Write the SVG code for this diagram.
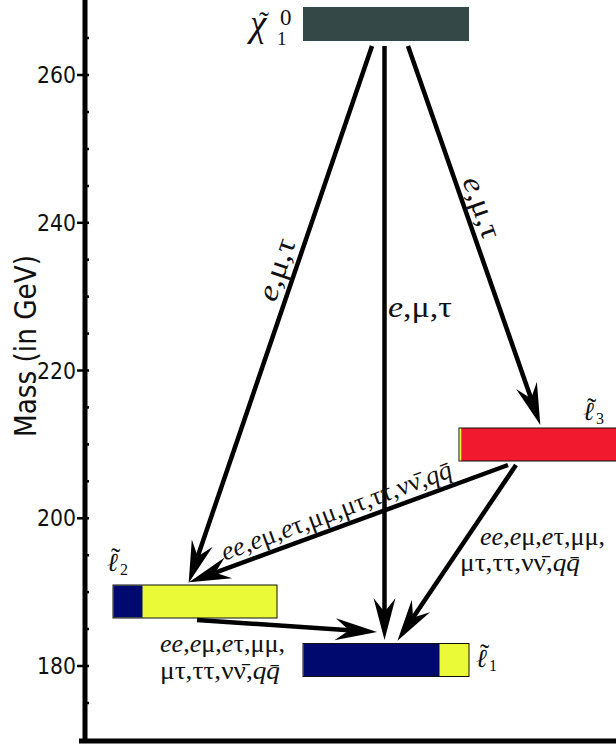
<svg xmlns="http://www.w3.org/2000/svg" width="616" height="746" viewBox="0 0 616 746">
<style>
.ax{stroke:#000;stroke-width:5;fill:none}
.tk{stroke:#000;stroke-width:2.5}
.tl{font-family:"DejaVu Sans",Verdana,sans-serif;font-size:23px;fill:#111;text-anchor:end}
.ml{font-family:"DejaVu Sans",Verdana,sans-serif;font-size:31px;fill:#111;text-anchor:middle}
.sf{font-family:"Liberation Serif","Times New Roman",serif;fill:#111}
.i{font-style:italic}
.lb{font-size:26px}
.lb2{font-size:30px}
.conn{stroke:#000;stroke-width:4.5;fill:none;marker-end:url(#ah)}
.bar{stroke:#111;stroke-width:1}
</style>
<defs>
<marker id="ah" markerUnits="userSpaceOnUse" viewBox="-15 -12 45 24" markerWidth="45" markerHeight="24" refX="0" refY="0" orient="auto">
<path d="M28,0 L-14,-11 L0,0 L-14,11 Z" fill="#000"/>
</marker>
</defs>
<rect width="616" height="746" fill="#fff"/>
<g id="axis">
<line class="ax" x1="85" y1="0" x2="85" y2="743"/>
<line class="ax" x1="79" y1="741" x2="616" y2="741"/>
<g class="tk">
<line x1="77" y1="75" x2="89" y2="75"/>
<line x1="77" y1="222.8" x2="89" y2="222.8"/>
<line x1="77" y1="370.5" x2="89" y2="370.5"/>
<line x1="77" y1="518.3" x2="89" y2="518.3"/>
<line x1="77" y1="666" x2="89" y2="666"/>
<line x1="85" y1="38" x2="89" y2="38"/>
<line x1="85" y1="112" x2="89" y2="112"/>
<line x1="85" y1="149" x2="89" y2="149"/>
<line x1="85" y1="186" x2="89" y2="186"/>
<line x1="85" y1="259.7" x2="89" y2="259.7"/>
<line x1="85" y1="296.6" x2="89" y2="296.6"/>
<line x1="85" y1="333.6" x2="89" y2="333.6"/>
<line x1="85" y1="407.4" x2="89" y2="407.4"/>
<line x1="85" y1="444.4" x2="89" y2="444.4"/>
<line x1="85" y1="481.3" x2="89" y2="481.3"/>
<line x1="85" y1="555.2" x2="89" y2="555.2"/>
<line x1="85" y1="592.1" x2="89" y2="592.1"/>
<line x1="85" y1="629" x2="89" y2="629"/>
<line x1="85" y1="703" x2="89" y2="703"/>
</g>
<text class="tl" x="76" y="83" textLength="39" lengthAdjust="spacingAndGlyphs">260</text>
<text class="tl" x="76" y="230.8" textLength="39" lengthAdjust="spacingAndGlyphs">240</text>
<text class="tl" x="76" y="378.5" textLength="39" lengthAdjust="spacingAndGlyphs">220</text>
<text class="tl" x="76" y="526.3" textLength="39" lengthAdjust="spacingAndGlyphs">200</text>
<text class="tl" x="76" y="674" textLength="39" lengthAdjust="spacingAndGlyphs">180</text>
<text class="ml" transform="translate(36,346) rotate(-90)" textLength="182" lengthAdjust="spacingAndGlyphs">Mass (in GeV)</text>
</g>
<g id="chi">
<rect x="303" y="7" width="166" height="34" fill="#344848"/>
<text class="sf"><tspan class="i" x="250" y="36" font-size="37">χ</tspan><tspan x="259" y="32" font-size="30">˜</tspan><tspan x="277" y="45" font-size="19">1</tspan><tspan x="280" y="25" font-size="23">0</tspan></text>
</g>
<g id="slepton3">
<rect class="bar" x="459" y="428" width="160" height="33" fill="#f0192d"/>
<rect x="459.5" y="428.5" width="1.8" height="32" fill="#ebfa37"/>
<text class="sf"><tspan class="i" x="583" y="420" font-size="26">ℓ</tspan><tspan x="587" y="417" font-size="28">˜</tspan><tspan x="596" y="424" font-size="16">3</tspan></text>
</g>
<g id="slepton2">
<rect class="bar" x="113" y="585" width="164" height="33" fill="#ebfa37"/>
<rect x="113.5" y="585.5" width="29" height="32" fill="#000a6e"/>
<text class="sf"><tspan class="i" x="107" y="571" font-size="26">ℓ</tspan><tspan x="111" y="567" font-size="28">˜</tspan><tspan x="120" y="575" font-size="16">2</tspan></text>
</g>
<g id="slepton1">
<rect class="bar" x="303" y="643.5" width="166" height="33" fill="#ebfa37"/>
<rect x="303.5" y="644" width="136" height="32" fill="#000a6e"/>
<text class="sf"><tspan class="i" x="476" y="667" font-size="26">ℓ</tspan><tspan x="480" y="663" font-size="28">˜</tspan><tspan x="489" y="671" font-size="16">1</tspan></text>
</g>
<g id="connectors">
<path class="conn" d="M372,46 L197.7,556.4"/>
<path class="conn" d="M384.5,46 L384.5,612"/>
<path class="conn" d="M408,46 L531.1,398.5"/>
<path class="conn" d="M508,465 L215.3,572.7"/>
<path class="conn" d="M516,465 L413.1,617.6"/>
<path class="conn" d="M197,620 L349.1,630.2"/>
</g>
<g id="labels" class="sf">
<text class="lb2" transform="translate(285.6,272.7) rotate(-71.05)" text-anchor="middle" textLength="64" lengthAdjust="spacingAndGlyphs"><tspan class="i">e</tspan>,μ,τ</text>
<text class="lb2" x="388" y="317" textLength="64" lengthAdjust="spacingAndGlyphs"><tspan class="i">e</tspan>,μ,τ</text>
<text class="lb2" transform="translate(472.9,210.7) rotate(70.75)" text-anchor="middle" textLength="64" lengthAdjust="spacingAndGlyphs"><tspan class="i">e</tspan>,μ,τ</text>
<text class="lb" transform="translate(339.2,518.6) rotate(-20.2)" text-anchor="middle" textLength="244" lengthAdjust="spacingAndGlyphs"><tspan class="i">ee</tspan>,<tspan class="i">e</tspan>μ,<tspan class="i">e</tspan>τ,μμ,μτ,ττ,νν̄,<tspan class="i">qq̄</tspan></text>
<text class="lb" x="480" y="545" textLength="125" lengthAdjust="spacingAndGlyphs"><tspan class="i">ee</tspan>,<tspan class="i">e</tspan>μ,<tspan class="i">e</tspan>τ,μμ,</text>
<text class="lb" x="460" y="571" textLength="120" lengthAdjust="spacingAndGlyphs">μτ,ττ,νν̄,<tspan class="i">qq̄</tspan></text>
<text class="lb" x="160" y="652" textLength="125" lengthAdjust="spacingAndGlyphs"><tspan class="i">ee</tspan>,<tspan class="i">e</tspan>μ,<tspan class="i">e</tspan>τ,μμ,</text>
<text class="lb" x="160" y="679" textLength="120" lengthAdjust="spacingAndGlyphs">μτ,ττ,νν̄,<tspan class="i">qq̄</tspan></text>
</g>
</svg>
